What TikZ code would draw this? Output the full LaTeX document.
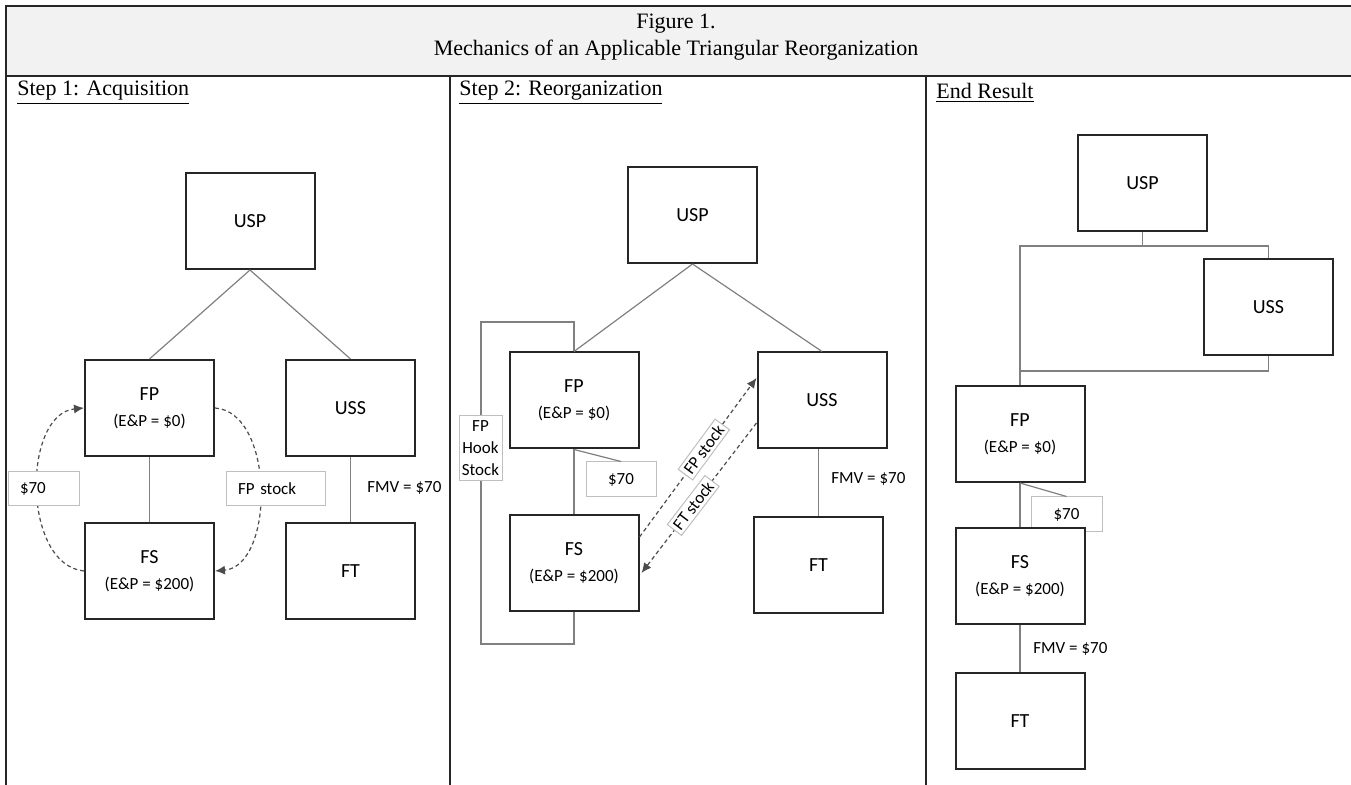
\documentclass[tikz,border=0pt]{standalone}
\usepackage{fontspec}
\setmainfont{Liberation Serif}
\newfontfamily\calibri{Carlito}
\usetikzlibrary{arrows.meta}
\tikzset{
  entite/.style={draw=black!85, line width=1pt, fill=white, minimum width=64.5pt,
    minimum height=48pt, align=center, inner sep=0pt, font=\calibri\fontsize{10}{13}\selectfont},
  lien/.style={draw=black!50, line width=0.6pt},
  etiquette/.style={draw=black!25, solid, line width=0.5pt, fill=white,
    font=\calibri\fontsize{8.5}{11}\selectfont, minimum height=17pt, inner sep=0pt},
  flux/.style={draw=black!70, line width=0.6pt, dash pattern=on 2pt off 1.5pt,
    -{Latex[length=5pt,width=4.5pt]}},
  montant/.style={font=\calibri\fontsize{8.5}{10}\selectfont, anchor=west, inner sep=0pt},
  titre/.style={font=\fontsize{11}{13}\selectfont, anchor=west, inner sep=0pt}
}
\newcommand{\ep}[1]{\\{\fontsize{8.5}{13}\selectfont(E\&P = \$#1)}}
\begin{document}
\begin{tikzpicture}[x=0.5pt, y=-0.5pt]
  \useasboundingbox (0,0) rectangle (1351,785);
  % Cadre et en-tête
  \fill[black!5] (6,6) rectangle (1351,76);
  \draw[line width=1.2pt, black!85] (1351,6) -- (6,6) -- (6,785);
  \draw[line width=1.2pt, black!85] (6,76) -- (1351,76);
  \draw[line width=1pt, black!85] (450,76) -- (450,785);
  \draw[line width=1pt, black!85] (926,76) -- (926,785);
  \node[font=\fontsize{11}{14}\selectfont] (figure) at (676,24) {Figure 1.};
  \node[font=\fontsize{11}{14}\selectfont] (titre) at (676,50) {Mechanics of an Applicable Triangular Reorganization};
  \node[titre] (etape1) at (17,93) {\underline{Step 1: Acquisition}};
  \node[titre] (etape2) at (459,93) {\underline{Step 2: Reorganization}};
  \node[titre] (fin) at (936,93) {\underline{End Result}};

  % Étape 1 : acquisition
  \node[entite] (usp1) at (250,221) {USP};
  \node[entite] (fp1) at (149.5,408) {FP\ep{0}};
  \node[entite] (uss1) at (350.5,408) {USS};
  \node[entite] (fs1) at (149.5,571) {FS\ep{200}};
  \node[entite] (ft1) at (350.5,571) {FT};
  \draw[lien] (usp1.south) -- (fp1.north);
  \draw[lien] (usp1.south) -- (uss1.north);
  \draw[lien] (fp1.south) -- (fs1.north);
  \draw[lien] (uss1.south) -- (ft1.north);
  \node[montant] (fmv1) at (367,488) {FMV = \$70};
  \draw[flux] (fs1.west) .. controls (22,565) and (22,414) .. (fp1.west);
  \draw[flux] (fp1.east) .. controls (275,412) and (275,566) .. (fs1.east);
  \node[etiquette, text width=23.5pt, align=left, inner xsep=6pt] (paie1) at (43.5,489) {\$70};
  \node[etiquette, text width=37.5pt, align=left, inner xsep=6pt] (titres1) at (275.5,489) {FP stock};

  % Étape 2 : réorganisation
  \node[entite] (usp2) at (692.5,215) {USP};
  \node[entite] (fp2) at (574,400.5) {FP\ep{0}};
  \node[entite] (uss2) at (822,400.5) {USS};
  \node[entite] (fs2) at (574,563.5) {FS\ep{200}};
  \node[entite] (ft2) at (818.5,565) {FT};
  \draw[lien] (usp2.south) -- (fp2.north);
  \draw[lien] (usp2.south) -- (uss2.north);
  \coordinate (crochetH) at (481,322);
  \coordinate (crochetB) at (481,644);
  \draw[lien] (fp2.north) |- (crochetH) -- (crochetB) -| (fs2.south);
  \node[etiquette, minimum width=21.5pt, minimum height=32.5pt, align=center] (crochet) at (480.5,448.5) {FP\\Hook\\Stock};
  \node[etiquette, minimum width=35pt, minimum height=17.5pt] (paie2) at (621,479.5) {\$70};
  \draw[lien] (fp2.south) -- (fs2.north);
  \draw[lien] (fp2.south) -- (paie2.north);
  \draw[lien] (ft2.north |- uss2.south) -- (ft2.north);
  \node[montant] (fmv2) at (831,479) {FMV = \$70};
  \draw[flux] ([yshift=13.25pt]fs2.east) -- node[pos=0.55, etiquette, sloped, minimum height=0pt, inner sep=1.5pt] (fpst) {FP stock} ([yshift=11.25pt]uss2.west);
  \draw[flux] ([yshift=-11.25pt]uss2.west) -- node[pos=0.55, etiquette, sloped, minimum height=0pt, inner sep=1.5pt] (ftst) {FT stock} ([yshift=-4.75pt, xshift=1pt]fs2.east);

  % Résultat final
  \node[entite] (usp3) at (1142.5,183) {USP};
  \node[entite] (uss3) at (1268.5,307.5) {USS};
  \node[entite] (fp3) at (1020,434) {FP\ep{0}};
  \node[etiquette, minimum width=35.5pt, minimum height=17.5pt] (paie3) at (1066.5,514.5) {\$70};
  \node[entite] (fs3) at (1020,576) {FS\ep{200}};
  \node[entite] (ft3) at (1020,721) {FT};
  \coordinate (barre3) at (1142.5,246);
  \coordinate (bas3) at (1020,371);
  \draw[lien] (usp3.south) -- (barre3);
  \draw[lien] (fp3.north) |- (barre3) -| (uss3.north);
  \draw[lien] (uss3.south) |- (bas3);
  \draw[lien] (fp3.south) -- (fs3.north);
  \draw[lien] (fp3.south) -- (paie3.north);
  \draw[lien] (fs3.south) -- (ft3.north);
  \node[montant] (fmv3) at (1033,649) {FMV = \$70};
\end{tikzpicture}
\end{document}
